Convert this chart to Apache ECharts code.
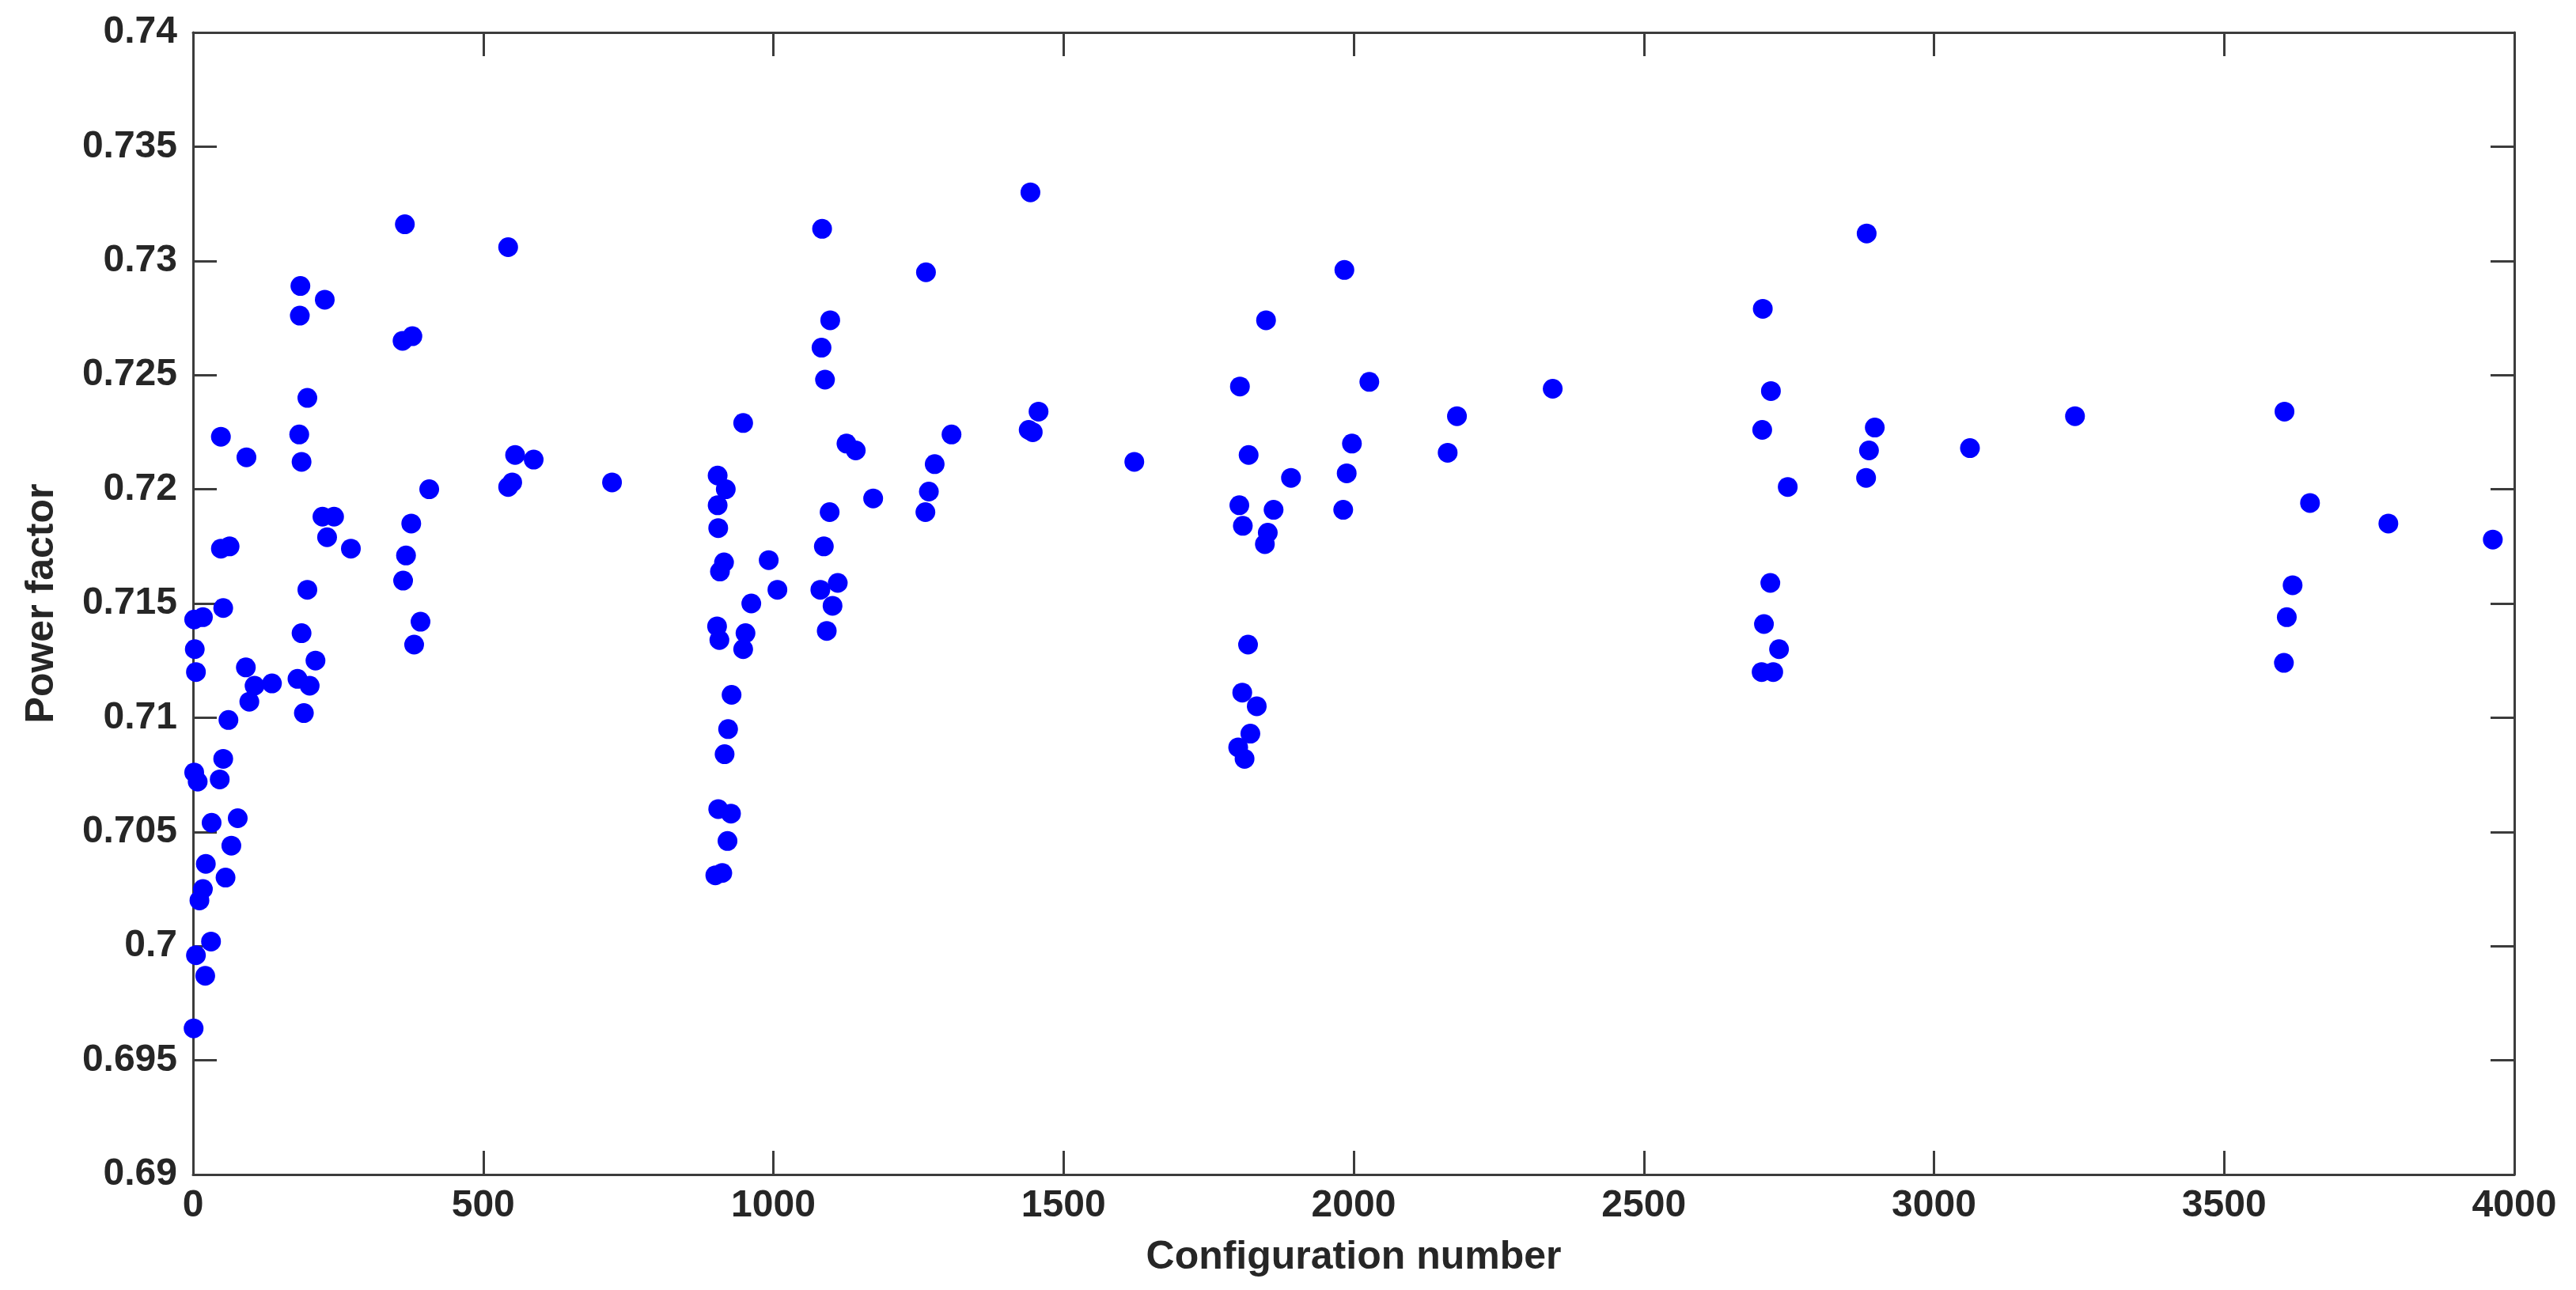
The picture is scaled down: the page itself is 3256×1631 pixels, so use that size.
<!DOCTYPE html>
<html>
<head>
<meta charset="utf-8">
<script src="https://cdn.jsdelivr.net/npm/echarts@6/dist/echarts.min.js"></script>
<style>
html,body{margin:0;padding:0;background:#fff;}
#chart{width:3256px;height:1631px;}
</style>
</head>
<body>
<div id="chart"></div>
<script>
// Configuration numbers (x) and power factors (y)
const configNumbers = [
  365, 543, 185, 227, 184, 361, 378, 197, 48, 92, 183, 187, 555, 587, 543, 550, 722, 407,
  904, 918, 904, 905, 915, 908, 903, 907, 928, 922, 916, 905, 927, 921, 900, 912,
  223, 243, 231, 272, 376, 367, 362, 392, 381, 48, 63, 197, 52, 2, 17, 187, 3, 211, 5, 91,
  180, 201, 106, 136, 97, 191, 61, 52, 2, 8, 46, 32, 77, 66, 22, 56, 17, 11, 31, 5, 21, 1,
  1084, 1263, 1098, 1083, 1089, 948, 1126, 1142, 1307, 1278, 1268, 1262, 1172, 1097, 1087,
  992, 1007, 1081, 1111, 1102, 1092, 962, 952, 948,
  1443, 1984, 1849, 1804, 2027, 1457, 1440, 1447, 1622, 1819, 1892, 1997, 1988, 1982, 1803,
  1862, 1809, 1852, 1847, 1818, 1808, 1833, 1822, 1801, 1812,
  2884, 2705, 2343, 2178, 2162, 2719, 2704, 2748, 2898, 2888, 2883, 3062, 2718, 2707, 2733,
  2703, 2723,
  3243, 3604, 3648, 3783, 3963, 3618, 3608, 3603
];
const powerFactors = [
  0.7316, 0.7306, 0.7289, 0.7283, 0.7276, 0.7265, 0.7267, 0.7240, 0.7223, 0.7214, 0.7224, 0.7212, 0.7215, 0.7213, 0.7201, 0.7203, 0.7203, 0.7200,
  0.7206, 0.7200, 0.7193, 0.7183, 0.7168, 0.7164, 0.7140, 0.7134, 0.7110, 0.7095, 0.7084, 0.7060, 0.7058, 0.7046, 0.7031, 0.7032,
  0.7188, 0.7188, 0.7179, 0.7174, 0.7185, 0.7171, 0.7160, 0.7142, 0.7132, 0.7174, 0.7175, 0.7156, 0.7148, 0.7143, 0.7144, 0.7137, 0.7130, 0.7125, 0.7120, 0.7122,
  0.7117, 0.7114, 0.7114, 0.7115, 0.7107, 0.7102, 0.7099, 0.7082, 0.7076, 0.7072, 0.7073, 0.7054, 0.7056, 0.7044, 0.7036, 0.7030, 0.7025, 0.7020, 0.7002, 0.6996, 0.6987, 0.6964,
  0.7314, 0.7295, 0.7274, 0.7262, 0.7248, 0.7229, 0.7220, 0.7217, 0.7224, 0.7211, 0.7199, 0.7190, 0.7196, 0.7190, 0.7175,
  0.7169, 0.7156, 0.7156, 0.7159, 0.7149, 0.7138, 0.7150, 0.7137, 0.7130,
  0.7330, 0.7296, 0.7274, 0.7245, 0.7247, 0.7234, 0.7226, 0.7225, 0.7212, 0.7215, 0.7205, 0.7220, 0.7207, 0.7191, 0.7193,
  0.7191, 0.7184, 0.7181, 0.7176, 0.7132, 0.7111, 0.7105, 0.7093, 0.7087, 0.7082,
  0.7312, 0.7279, 0.7244, 0.7232, 0.7216, 0.7243, 0.7226, 0.7201, 0.7227, 0.7217, 0.7205, 0.7218, 0.7159, 0.7141, 0.7130,
  0.7120, 0.7120,
  0.7232, 0.7234, 0.7194, 0.7185, 0.7178, 0.7158, 0.7144, 0.7124
];
const xTickLabels = ['0', '500', '1000', '1500', '2000', '2500', '3000', '3500', '4000'];
const yTickLabels = ['0.69', '0.695', '0.7', '0.705', '0.71', '0.715', '0.72', '0.725', '0.73', '0.735', '0.74'];
const xTitle = 'Configuration number';
const yTitle = 'Power factor';

const points = configNumbers.map((x, i) => [x, powerFactors[i]]);

const FONT = '"Liberation Sans", Arial, Helvetica, sans-serif';
const AXIS_COLOR = '#3c3c3c';
const TEXT_COLOR = '#262626';

const xMin = 0, xMax = 4000, xInt = 500;
const yMin = 0.69, yMax = 0.74, yInt = 0.005;

function xFmt(v) {
  const idx = Math.round((v - xMin) / xInt);
  return xTickLabels[idx] !== undefined ? xTickLabels[idx] : '';
}
function yFmt(v) {
  const idx = Math.round((v - yMin) / yInt);
  return yTickLabels[idx] !== undefined ? yTickLabels[idx] : '';
}

const lineStyle = { color: AXIS_COLOR, width: 3 };
const tickCommon = { show: true, inside: true, length: 30, lineStyle: { color: AXIS_COLOR, width: 3 } };

const chart = echarts.init(document.getElementById('chart'), null, { renderer: 'canvas' });
chart.setOption({
  backgroundColor: '#ffffff',
  animation: false,
  grid: { left: 244, right: 78, top: 41, bottom: 146, containLabel: false },
  xAxis: [
    {
      type: 'value', position: 'bottom', min: xMin, max: xMax, interval: xInt,
      axisLine: { show: true, onZero: false, lineStyle: lineStyle },
      axisTick: tickCommon,
      splitLine: { show: false },
      axisLabel: { show: true, margin: 16, formatter: xFmt, color: TEXT_COLOR, fontSize: 48, fontWeight: 'bold', fontFamily: FONT },
      name: xTitle, nameLocation: 'middle', nameGap: 80,
      nameTextStyle: { color: TEXT_COLOR, fontSize: 50, fontWeight: 'bold', fontFamily: FONT }
    },
    {
      type: 'value', position: 'top', min: xMin, max: xMax, interval: xInt,
      axisLine: { show: true, onZero: false, lineStyle: lineStyle },
      axisTick: tickCommon,
      splitLine: { show: false },
      axisLabel: { show: false }
    }
  ],
  yAxis: [
    {
      type: 'value', position: 'left', min: yMin, max: yMax, interval: yInt,
      axisLine: { show: true, onZero: false, lineStyle: lineStyle },
      axisTick: tickCommon,
      splitLine: { show: false },
      axisLabel: { show: true, margin: 20, formatter: yFmt, color: TEXT_COLOR, fontSize: 48, fontWeight: 'bold', fontFamily: FONT },
      name: yTitle, nameLocation: 'middle', nameGap: 166, nameRotate: 90,
      nameTextStyle: { color: TEXT_COLOR, fontSize: 50, fontWeight: 'bold', fontFamily: FONT }
    },
    {
      type: 'value', position: 'right', min: yMin, max: yMax, interval: yInt,
      axisLine: { show: true, onZero: false, lineStyle: lineStyle },
      axisTick: tickCommon,
      splitLine: { show: false },
      axisLabel: { show: false }
    }
  ],
  series: [
    {
      type: 'scatter',
      xAxisIndex: 0, yAxisIndex: 0,
      data: points,
      symbol: 'circle',
      symbolSize: 25,
      itemStyle: { color: '#0000ff', opacity: 1 }
    }
  ]
});
</script>
</body>
</html>
